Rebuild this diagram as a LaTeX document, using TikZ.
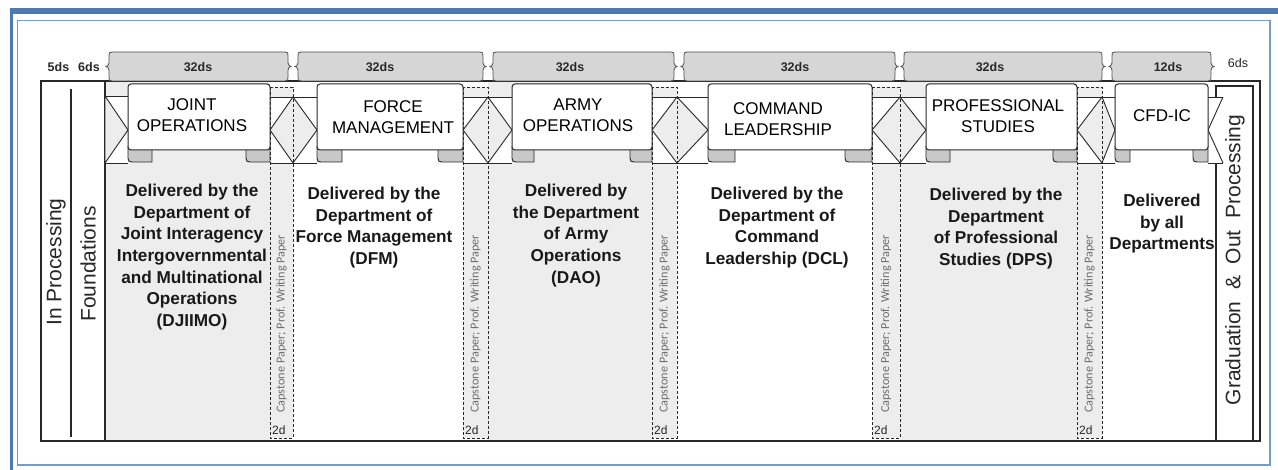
\documentclass[tikz,border=0pt]{standalone}
\usepackage{fontspec}
\setmainfont{Liberation Sans}
\newfontfamily\capfont{Carlito}
\definecolor{bandblue}{RGB}{79,122,176}
\definecolor{lineblue}{RGB}{120,156,200}
\definecolor{secgray}{RGB}{237,237,237}
\definecolor{bracegray}{RGB}{214,214,214}
\definecolor{curlgray}{RGB}{200,200,200}
\definecolor{ink}{RGB}{40,40,40}
\definecolor{capgray}{RGB}{110,110,110}
\tikzset{
  lbl/.style={inner sep=0pt, text=ink},
  body/.style={inner sep=0pt, text=black!90, anchor=north, align=center, font=\fontsize{17.2}{21.6}\selectfont\bfseries},
  ttl/.style={inner sep=0pt, text=black, anchor=north, align=center, font=\fontsize{17}{21}\selectfont},
  side/.style={lbl, rotate=90, font=\fontsize{21}{24}\selectfont},
  captext/.style={inner sep=0pt, rotate=90, anchor=west, text=capgray, font=\capfont\fontsize{12.2}{13}\selectfont},
  twod/.style={inner sep=0pt, anchor=south west, text=ink, font=\fontsize{12}{12}\selectfont},
  dur/.style={inner sep=0pt, text=ink, font=\fontsize{12.5}{13}\selectfont\bfseries},
  banner/.style={draw=ink, fill=white, line width=1pt, rounded corners=3pt},
  curl/.style={draw=ink, fill=curlgray, line width=0.9pt},
  tailline/.style={draw=ink, line width=0.9pt},
  notch/.style={draw=ink, fill=secgray, line width=0.9pt},
  strip/.style={draw=ink, line width=0.9pt, dash pattern=on 3pt off 2pt},
  bracebox/.style={draw=ink!80, fill=bracegray, line width=0.8pt},
  frame/.style={draw=ink, line width=1.3pt},
}
\newcommand\hbrace[2]{%
  \draw[bracebox] (#1+5,52) -- (#2-5,52)
    .. controls (#2-2,52) and (#2-2,53) .. (#2-2,56) -- (#2-2,63)
    .. controls (#2-2,65) and (#2,66.5) .. (#2+1,66.5)
    .. controls (#2,66.5) and (#2-2,68) .. (#2-2,70) -- (#2-2,77)
    .. controls (#2-2,80) and (#2-2,81) .. (#2-5,81) -- (#1+5,81)
    .. controls (#1+2,81) and (#1+2,80) .. (#1+2,77) -- (#1+2,70)
    .. controls (#1+2,68) and (#1,66.5) .. (#1-1,66.5)
    .. controls (#1,66.5) and (#1+2,65) .. (#1+2,63) -- (#1+2,56)
    .. controls (#1+2,53) and (#1+2,52) .. (#1+5,52) -- cycle;}
\newcommand\curlat[2]{%
  \draw[curl] (#1,146) -- (#1,158) .. controls (#1,161) and (#1+1,162) .. (#1+4,162) -- (#2,162) -- (#2,146);}
\newcommand\junction[3]{%
  \fill[white] (#1,97) rectangle (#3,163);
  \draw[tailline] (#1,97) -- (#3,97) (#1,163) -- (#3,163);
  \draw[notch] (#1,130) -- (#2,97) -- (#3,130) -- (#2,163) -- cycle;}
\newcommand\bannerat[3]{%
  \curlat{#1}{#1+#3}
  \curlat{#2-#3}{#2}
  \draw[banner] (#1,84) rectangle (#2,150);}
\begin{document}
\begin{tikzpicture}[x=1pt,y=-1pt]
\useasboundingbox (0,0) rectangle (1278,470);
\fill[white] (0,0) rectangle (1278,470);
% blue page border
\fill[bandblue] (10,8) rectangle (1278,14);
\fill[bandblue] (10,8) rectangle (13,470);
\draw[lineblue, line width=1.5pt] (17.5,20.5) rectangle (1270,465);
% section backgrounds
\fill[secgray] (105,81) rectangle (270,441);
\fill[secgray] (488,81) rectangle (652,441);
\fill[secgray] (900,81) rectangle (1077,441);
% strip fills
\fill[secgray] (270,87) rectangle (293,438);
\fill[secgray] (463,87) rectangle (488,438);
\fill[secgray] (652,87) rectangle (677,438);
\fill[secgray] (872,87) rectangle (900,438);
\fill[secgray] (1077,87) rectangle (1102,438);
% frame
\draw[frame] (41,81) rectangle (1260,441);
\draw[frame] (105,81) -- (105,441);
\draw[frame] (71,89) -- (71,437);
\draw[frame] (1216,441) -- (1216,86) -- (1253,86) -- (1253,441);
% ribbon tails
\fill[white] (105,96) rectangle (128,163);
\draw[tailline] (105,96) -- (128,96) (105,163) -- (128,163);
\draw[notch] (105,96) -- (128,130) -- (105,163) -- cycle;
\junction{270}{293}{317}
\junction{463}{488}{512}
\junction{652}{677}{708}
\junction{872}{900}{926}
\junction{1077}{1102}{1115}
\fill[white] (1208,97) rectangle (1223,163);
\draw[tailline] (1208,97) -- (1223,97) (1208,163) -- (1223,163);
\draw[tailline] (1223,97) -- (1208,130) -- (1223,163);
% banners
\bannerat{128}{270}{24}
\bannerat{317}{463}{25}
\bannerat{512}{652}{22}
\bannerat{708}{872}{27}
\bannerat{926}{1077}{24}
\bannerat{1115}{1208}{15}
% dashed strips
\draw[strip] (270,87) rectangle (293,438);
\draw[strip] (463,87) rectangle (488,438);
\draw[strip] (652,87) rectangle (677,438);
\draw[strip] (872,87) rectangle (900,438);
\draw[strip] (1077,87) rectangle (1102,438);
% header braces
\hbrace{107}{290}
\hbrace{296}{485}
\hbrace{491}{676}
\hbrace{682}{897}
\hbrace{902}{1104}
\hbrace{1110}{1213}
\node[dur] (d5) at (58.5,67) {5ds};
\node[dur] (d6) at (89,67) {6ds};
\node[dur] (h1) at (198,67) {32ds};
\node[dur] (h2) at (380,67) {32ds};
\node[dur] (h3) at (570,67) {32ds};
\node[dur] (h4) at (795,67) {32ds};
\node[dur] (h5) at (990,67) {32ds};
\node[dur] (h6) at (1168,67) {12ds};
\node[lbl, font=\fontsize{12.5}{13}\selectfont] (d6r) at (1238,63) {6ds};
% titles
\node[ttl] (t1) at (192,98) {JOINT\\OPERATIONS};
\node[ttl] (t2) at (393,100.5) {FORCE\\MANAGEMENT};
\node[ttl] (t3) at (578,99) {ARMY\\OPERATIONS};
\node[ttl] (t4) at (778,102) {COMMAND\\LEADERSHIP};
\node[ttl] (t5) at (998,99) {PROFESSIONAL\\STUDIES};
\node[ttl] (t6) at (1162,109) {CFD-IC};
% bodies
\node[body] (x1) at (192,184) {Delivered by the\\Department of\\Joint Interagency\\Intergovernmental\\and Multinational\\Operations\\(DJIIMO)};
\node[body] (x2) at (374,187) {Delivered by the\\Department of\\Force Management\\(DFM)};
\node[body] (x3) at (576,184) {Delivered by\\the Department\\of Army\\Operations\\(DAO)};
\node[body] (x4) at (777,187) {Delivered by the\\Department of\\Command\\Leadership (DCL)};
\node[body] (x5) at (996,188) {Delivered by the\\Department\\of Professional\\Studies (DPS)};
\node[body] (x6) at (1162,194) {Delivered\\by all\\Departments};
% side labels
\node[side] (ip) at (56,262) {In Processing};
\node[side] (fd) at (88,264) {Foundations};
\node[side] (gp) at (1235,260) {Graduation\ \ \&\ \ Out\ \ Processing};
% capstone strips
\node[captext] (c1) at (281.5,413) {Capstone Paper; Prof. Writing Paper};
\node[captext] (c2) at (475.5,413) {Capstone Paper; Prof. Writing Paper};
\node[captext] (c3) at (664.5,413) {Capstone Paper; Prof. Writing Paper};
\node[captext] (c4) at (886,413) {Capstone Paper; Prof. Writing Paper};
\node[captext] (c5) at (1089.5,413) {Capstone Paper; Prof. Writing Paper};
\node[twod] (e1) at (272,435) {2d};
\node[twod] (e2) at (465,435) {2d};
\node[twod] (e3) at (654,435) {2d};
\node[twod] (e4) at (874,435) {2d};
\node[twod] (e5) at (1079,435) {2d};
\end{tikzpicture}
\end{document}
